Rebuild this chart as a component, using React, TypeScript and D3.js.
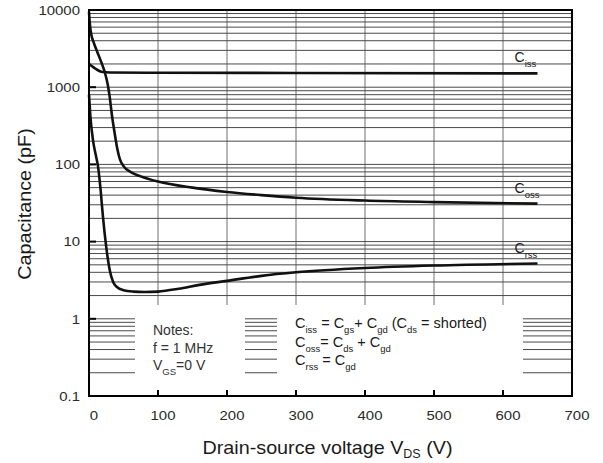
import React from "react";
import * as d3 from "d3";

const xTickValues = [0, 100, 200, 300, 400, 500, 600, 700];
const yTickValues = [0.1, 1, 10, 100, 1000, 10000];
const yTickLabels = ["0.1", "1", "10", "100", "1000", "10000"];

const cissVoltage = [0, 5, 10, 15, 20, 30, 100, 300, 650];
const cissCap = [2000, 1850, 1720, 1620, 1570, 1550, 1540, 1530, 1510];

const cossVoltage = [0, 1, 3, 7, 12, 18, 23, 27, 30, 33, 37, 41, 45, 50, 60, 75, 100, 150, 200, 250, 300, 400, 500, 650];
const cossCap = [9500, 7000, 5000, 3750, 2860, 2090, 1550, 1100, 750, 450, 260, 160, 115, 95, 80, 70, 60, 50, 44, 40, 37, 34, 32.5, 31];

const crssVoltage = [0, 2, 6, 10, 13, 17, 20, 25, 30, 35, 40, 50, 65, 80, 100, 130, 160, 200, 250, 300, 400, 500, 650];
const crssCap = [800, 420, 200, 130, 95, 45, 22, 8.5, 4.3, 3.0, 2.6, 2.35, 2.25, 2.22, 2.25, 2.45, 2.75, 3.1, 3.6, 4.0, 4.55, 4.9, 5.2];

const seriesSubs = ["iss", "oss", "rss"];

const X0 = 89, X1 = 572, Y0 = 396, Y1 = 10;
const FONT = "'Liberation Sans', Arial, sans-serif";
const INK = "#2a2a2a";

export default function App() {
  const x = d3.scaleLinear().domain([0, 700]).range([X0, X1]);
  const y = d3.scaleLog().domain([0.1, 10000]).range([Y0, Y1]);

  const series = [
    { v: cissVoltage, c: cissCap },
    { v: cossVoltage, c: cossCap },
    { v: crssVoltage, c: crssCap },
  ];

  const line = d3
    .line<[number, number]>()
    .x((d) => x(d[0]))
    .y((d) => y(d[1]))
    .curve(d3.curveMonotoneX);

  // gridline values
  const gridVals: number[] = [];
  for (let n = -1; n <= 3; n++) {
    for (let k = 1; k <= 9; k++) {
      const v = k * Math.pow(10, n);
      if (v > 0.1 + 1e-9) gridVals.push(v);
    }
  }
  const lowSegments: [number, number][] = [
    [X0, 135],
    [245, 277],
    [523, X1],
  ];

  const sub = 9.5;
  const dsub = 5;

  return (
    <svg
      width={603}
      height={463}
      style={{ position: "absolute", left: 0, top: 0, background: "#fff" }}
      fontFamily={FONT}
    >
      <rect x={0} y={0} width={603} height={463} fill="#fff" />
      {/* vertical gridlines */}
      {xTickValues
        .filter((v) => v > 0 && v < 700)
        .map((v) => (
          <line key={"vg" + v} x1={x(v)} x2={x(v)} y1={Y1} y2={305} stroke="#707070" strokeWidth={1} />
        ))}
      {/* horizontal gridlines */}
      {gridVals.map((v) =>
        v > 1.0001 ? (
          <line key={"hg" + v} x1={X0} x2={X1} y1={y(v)} y2={y(v)} stroke="#4a4a4a" strokeWidth={1} />
        ) : (
          lowSegments.map((s, i) => (
            <line key={"hs" + v + "_" + i} x1={s[0]} x2={s[1]} y1={y(v)} y2={y(v)} stroke="#4a4a4a" strokeWidth={1} />
          ))
        )
      )}
      {/* curves */}
      {series.map((s, i) => (
        <path
          key={"s" + i}
          d={line(s.v.map((v, j) => [v, s.c[j]] as [number, number])) || ""}
          fill="none"
          stroke="#111"
          strokeWidth={2.6}
          strokeLinejoin="round"
        />
      ))}
      {/* frame */}
      <rect x={X0} y={Y1} width={X1 - X0} height={Y0 - Y1} fill="none" stroke="#000" strokeWidth={2} />
      {/* bottom ticks */}
      {xTickValues
        .filter((v) => v > 0 && v < 700)
        .map((v) => (
          <line key={"bt" + v} x1={x(v)} x2={x(v)} y1={Y0} y2={Y0 - 6} stroke="#000" strokeWidth={2} />
        ))}
      {/* left major ticks */}
      {yTickValues
        .filter((v) => v > 0.1 && v < 10000)
        .map((v) => (
          <line key={"lt" + v} x1={X0} x2={X0 + 7} y1={y(v)} y2={y(v)} stroke="#000" strokeWidth={2} />
        ))}
      {/* x tick labels */}
      {xTickValues.map((v) => (
        <g key={"xl" + v} transform={`translate(${x(v) + 5},${419.5}) scale(1.15,1)`}>
          <text textAnchor="middle" fontSize={13} fill={INK}>
            {String(v)}
          </text>
        </g>
      ))}
      {/* y tick labels */}
      {yTickValues.map((v, i) => (
        <g key={"yl" + v} transform={`translate(80,${y(v) + 4.7}) scale(1.15,1)`}>
          <text textAnchor="end" fontSize={13} fill={INK}>
            {yTickLabels[i]}
          </text>
        </g>
      ))}
      {/* axis titles */}
      <g transform={`translate(327.5,454) scale(1.04,1)`}>
        <text textAnchor="middle" fontSize={19} fill="#1a1a1a" style={{ whiteSpace: "pre" }}>
          {"Drain-source voltage V"}
          <tspan fontSize={12} dy={4}>DS</tspan>
          <tspan dy={-4}>{" (V)"}</tspan>
        </text>
      </g>
      <g transform={`translate(31,204) rotate(-90) scale(1.04,1)`}>
        <text textAnchor="middle" fontSize={19} fill="#1a1a1a">
          Capacitance (pF)
        </text>
      </g>
      {/* curve labels */}
      {series.map((s, i) => {
        const last = s.v.length - 1;
        const lx = x(s.v[last]) - 23;
        const ly = y(s.c[last]) - 11;
        return (
          <text key={"cl" + i} x={lx} y={ly} fontSize={14} fill="#1a1a1a">
            C
            <tspan fontSize={sub} dy={dsub}>
              {seriesSubs[i]}
            </tspan>
          </text>
        );
      })}
      {/* notes */}
      <g fontSize={14} fill="#333" style={{ whiteSpace: "pre" }}>
        <text x={153} y={335}>Notes:</text>
        <text x={153} y={352.5}>f = 1 MHz</text>
        <text x={153} y={370}>
          V<tspan fontSize={sub} dy={dsub}>GS</tspan>
          <tspan dy={-dsub}>=0 V</tspan>
        </text>
      </g>
      {/* formulas */}
      <g fontSize={14.5} fill="#1a1a1a" style={{ whiteSpace: "pre" }}>
        <text x={295} y={328}>
          C<tspan fontSize={sub} dy={dsub}>iss</tspan>
          <tspan dy={-dsub}>{" = C"}</tspan>
          <tspan fontSize={sub} dy={dsub}>gs</tspan>
          <tspan dy={-dsub}>{"+ C"}</tspan>
          <tspan fontSize={sub} dy={dsub}>gd</tspan>
          <tspan dy={-dsub}>{" (C"}</tspan>
          <tspan fontSize={sub} dy={dsub}>ds</tspan>
          <tspan dy={-dsub}>{" = shorted)"}</tspan>
        </text>
        <text x={295} y={346.5}>
          C<tspan fontSize={sub} dy={dsub}>oss</tspan>
          <tspan dy={-dsub}>{"= C"}</tspan>
          <tspan fontSize={sub} dy={dsub}>ds</tspan>
          <tspan dy={-dsub}>{" + C"}</tspan>
          <tspan fontSize={sub} dy={dsub}>gd</tspan>
        </text>
        <text x={295} y={365}>
          C<tspan fontSize={sub} dy={dsub}>rss</tspan>
          <tspan dy={-dsub}>{" = C"}</tspan>
          <tspan fontSize={sub} dy={dsub}>gd</tspan>
        </text>
      </g>
    </svg>
  );
}
